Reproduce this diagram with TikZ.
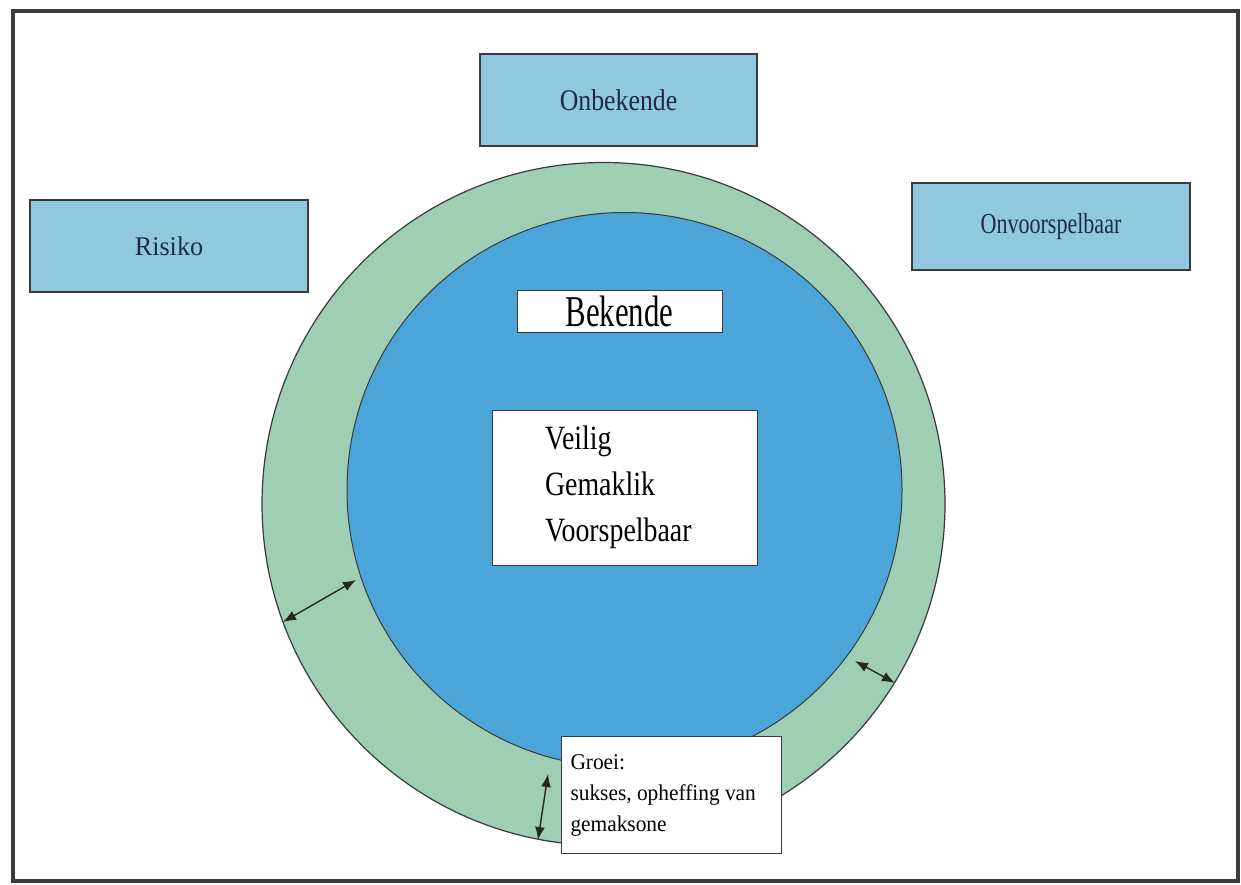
\documentclass[tikz,border=0pt]{standalone}
\usepackage{fontspec}
\setmainfont{Liberation Serif}
\newfontfamily\fOnb[FakeStretch=0.86]{Liberation Serif}
\newfontfamily\fOnv[FakeStretch=0.76]{Liberation Serif}
\newfontfamily\fRis[FakeStretch=0.97]{Liberation Serif}
\newfontfamily\fBek[FakeStretch=0.70]{Liberation Serif}
\newfontfamily\fVei[FakeStretch=0.82]{Liberation Serif}
\newfontfamily\fGro[FakeStretch=0.95]{Liberation Serif}
\usetikzlibrary{arrows.meta}
\definecolor{framegray}{HTML}{3C3C3C}
\definecolor{ringgreen}{HTML}{9ECFB5}
\definecolor{coreblue}{HTML}{4CA5D8}
\definecolor{boxblue}{HTML}{90C8DF}
\definecolor{boxtext}{HTML}{1E2A48}
\definecolor{edgegray}{HTML}{3A3A3A}
\tikzset{
  zonebox/.style={draw=edgegray, line width=1.2pt, fill=boxblue, text=boxtext,
    minimum width=278pt, minimum height=92pt, inner sep=0pt},
  whitebox/.style={draw=edgegray, line width=1pt, fill=white, text=black, inner sep=0pt},
  span/.style={line width=1.4pt, draw=black!85,
    {Latex[length=13pt,width=10pt]}-{Latex[length=13pt,width=10pt]}},
}
\begin{document}
\begin{tikzpicture}[x=1pt,y=-1pt]
\useasboundingbox (0,0) rectangle (1241,885);
\fill[white] (0,0) rectangle (1241,885);
% outer frame
\draw[framegray, line width=4pt] (12.5,11.5) rectangle (1237.5,880.5);

% comfort zone rings
\node[circle, draw=edgegray, line width=1.2pt, fill=ringgreen, minimum size=683pt, inner sep=0pt] (outer) at (603.5,504) {};
\node[circle, draw=edgegray, line width=1pt, fill=coreblue, minimum size=555pt, inner sep=0pt] (inner) at (624.5,490) {};

% surrounding zone labels
\node[zonebox, minimum width=277pt, font=\fOnb\fontsize{30}{34}\selectfont] (onb) at (618.5,100) {Onbekende};
\node[zonebox, font=\fRis\fontsize{27}{31}\selectfont] (ris) at (169,246) {Risiko};
\node[zonebox, minimum height=87pt, font=\fOnv\fontsize{29}{33}\selectfont] (onv) at (1051,226.5) {Onvoorspelbaar};

% core labels
\node[whitebox, minimum width=205pt, minimum height=42pt, font=\fBek\fontsize{44}{48}\selectfont] (bek) at (619.5,311) {Bekende};
\node[whitebox, minimum height=155pt, text width=159pt, inner xsep=53pt, align=left,
      font=\fVei\fontsize{34}{46}\selectfont] (vei) at (624.5,487.5)
  {Veilig\\Gemaklik\\Voorspelbaar};

% growth arrows across the ring
\coordinate (l1) at (283,622);
\coordinate (l2) at (356,580);
\coordinate (r1) at (855,661);
\coordinate (r2) at (895,683);
\coordinate (b1) at (548,774);
\coordinate (b2) at (538,840);
\draw[span] (l1) -- (l2);
\draw[span] (r1) -- (r2);
\draw[span] (b1) -- (b2);

% growth note
\node[whitebox, minimum width=220pt, minimum height=117pt, inner xsep=9pt, align=left,
      font=\fGro\fontsize{22.5}{31}\selectfont, anchor=north west] (gro) at (561,736)
  {\makebox[202pt][l]{Groei:}\\sukses, opheffing van\\gemaksone};
\end{tikzpicture}
\end{document}
